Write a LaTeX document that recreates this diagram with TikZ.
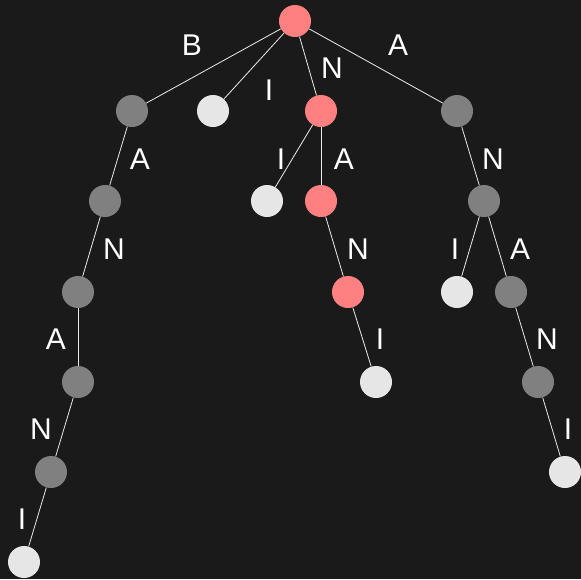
\documentclass[tikz,border=0pt]{standalone}
\usepackage{fontspec}
\setmainfont{Liberation Sans}
\definecolor{bg}{HTML}{1A1A1A}
\definecolor{hit}{HTML}{FF8080}
\definecolor{inner}{HTML}{808080}
\definecolor{leaf}{HTML}{E6E6E6}
\begin{document}
\begin{tikzpicture}[x=1pt,y=-1pt,
  vtx/.style={circle,minimum size=32pt,inner sep=0pt,draw=none},
  hitnode/.style={vtx,fill=hit},
  innode/.style={vtx,fill=inner},
  leafnode/.style={vtx,fill=leaf},
  lbl/.style={text=white,inner sep=0pt,text height=22pt,text depth=0pt,
    font=\fontsize{30}{30}\selectfont},
  edge/.style={draw=white!92!black,line width=0.8pt}]
\fill[bg] (0,0) rectangle (581,579);
\useasboundingbox (0,0) rectangle (581,579);
% vertices
\node[hitnode]  (r)   at (295,21) {};
\node[innode]   (b1)  at (132,111) {};
\node[leafnode] (i1)  at (213,111) {};
\node[hitnode]  (n1)  at (321,111) {};
\node[innode]   (a1)  at (457,111) {};
\node[innode]   (b2)  at (105,201) {};
\node[leafnode] (n2i) at (267,201) {};
\node[hitnode]  (n2a) at (321,201) {};
\node[innode]   (a2)  at (484,201) {};
\node[innode]   (b3)  at (78,292) {};
\node[hitnode]  (n3)  at (348,292) {};
\node[leafnode] (a3i) at (457,292) {};
\node[innode]   (a3a) at (511,292) {};
\node[innode]   (b4)  at (78,382) {};
\node[leafnode] (n4)  at (376,382) {};
\node[innode]   (a4)  at (538,382) {};
\node[innode]   (b5)  at (51,472) {};
\node[leafnode] (a5)  at (565,472) {};
\node[leafnode] (b6)  at (24,562) {};
% connectors
\draw[edge] (r) -- (b1);
\draw[edge] (r) -- (i1);
\draw[edge] (r) -- (n1);
\draw[edge] (r) -- (a1);
\draw[edge] (b1) -- (b2);
\draw[edge] (b2) -- (b3);
\draw[edge] (b3) -- (b4);
\draw[edge] (b4) -- (b5);
\draw[edge] (b5) -- (b6);
\draw[edge] (n1) -- (n2i);
\draw[edge] (n1) -- (n2a);
\draw[edge] (n2a) -- (n3);
\draw[edge] (n3) -- (n4);
\draw[edge] (a1) -- (a2);
\draw[edge] (a2) -- (a3i);
\draw[edge] (a2) -- (a3a);
\draw[edge] (a3a) -- (a4);
\draw[edge] (a4) -- (a5);
% edge letters
\node[lbl] (lB)   at (192,44) {B};
\node[lbl] (lI)   at (269,89) {I};
\node[lbl] (lN)   at (332,67) {N};
\node[lbl] (lA)   at (398,44) {A};
\node[lbl] (lbA)  at (140,158) {A};
\node[lbl] (lnI)  at (281,158) {I};
\node[lbl] (lnA)  at (344,158) {A};
\node[lbl] (laN)  at (493,158) {N};
\node[lbl] (lbN)  at (114,248) {N};
\node[lbl] (lnN)  at (358,248) {N};
\node[lbl] (laI)  at (455,248) {I};
\node[lbl] (laA)  at (520,248) {A};
\node[lbl] (lbA2) at (56,338) {A};
\node[lbl] (lnI2) at (380,338) {I};
\node[lbl] (laN2) at (547,338) {N};
\node[lbl] (lbN2) at (41,428) {N};
\node[lbl] (laI2) at (568,428) {I};
\node[lbl] (lbI)  at (22,518) {I};
\end{tikzpicture}
\end{document}
